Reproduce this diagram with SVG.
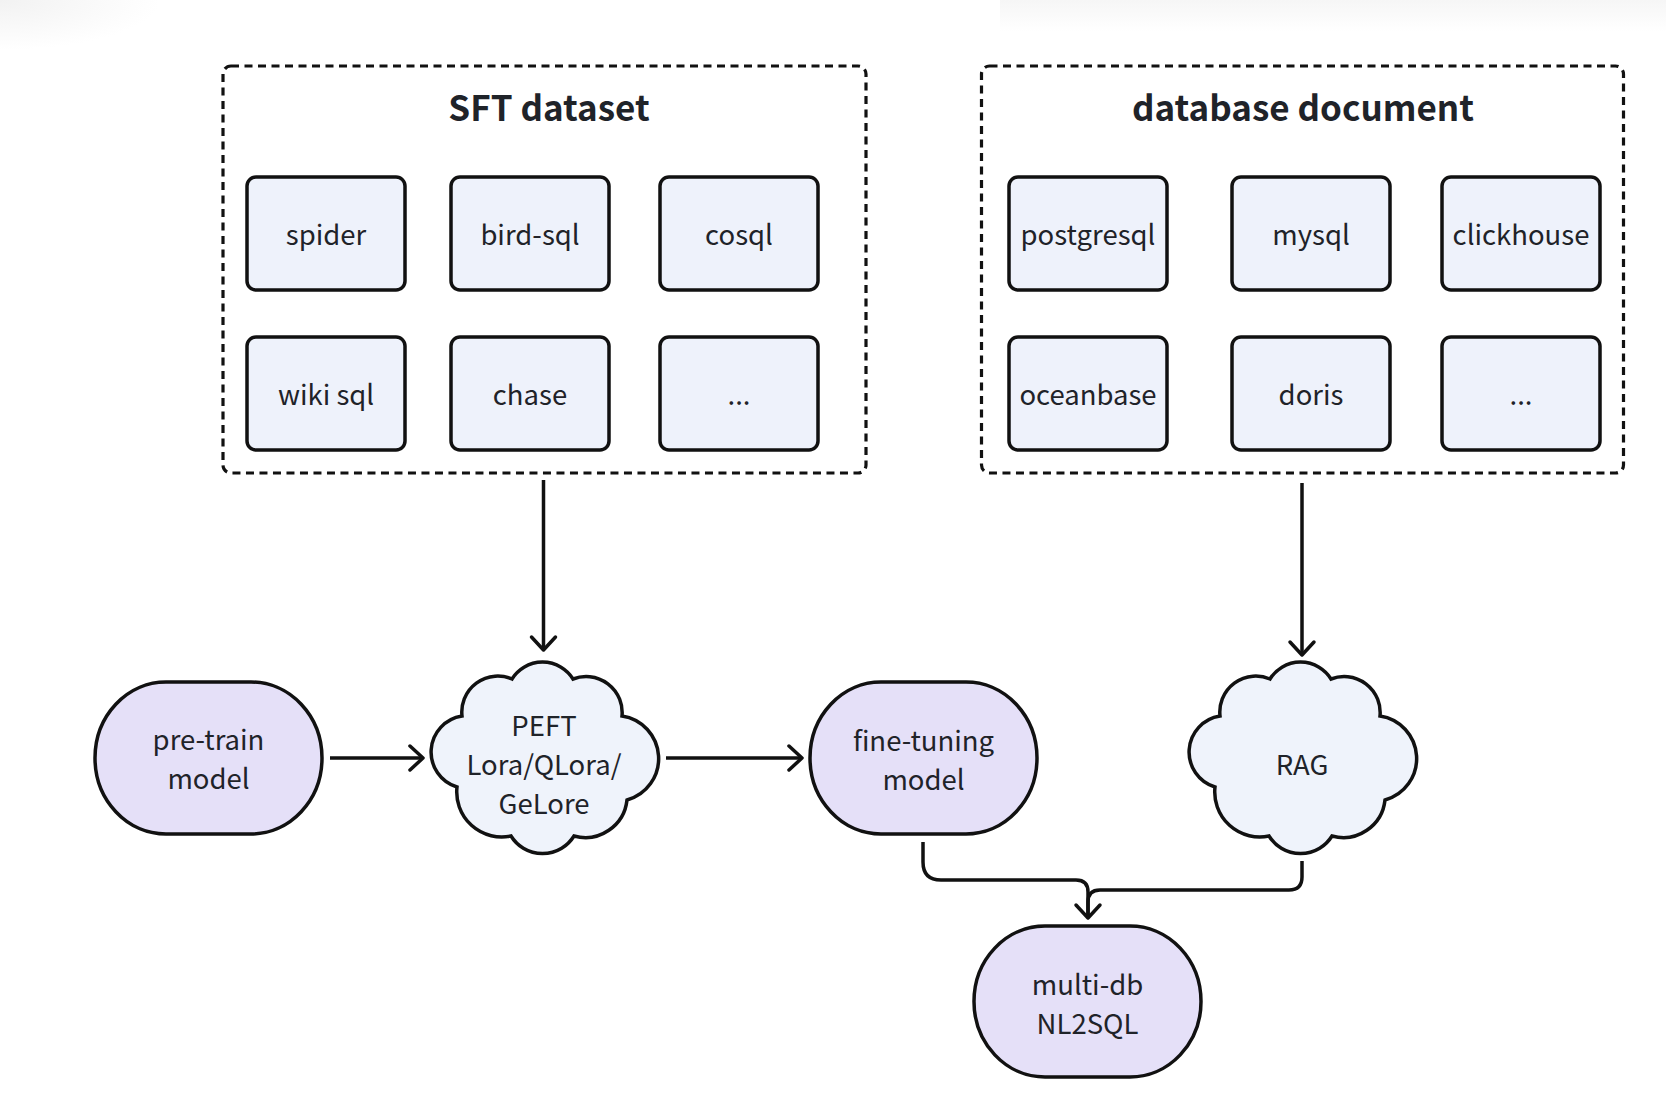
<svg xmlns="http://www.w3.org/2000/svg" width="1666" height="1094" viewBox="0 0 1666 1094">
<style>
.grp{fill:none;stroke:#111;stroke-width:3.2;stroke-dasharray:8 5.5}
.box{fill:#EEF2FB;stroke:#111;stroke-width:3.5}
.term{fill:#E5E0F8;stroke:#111;stroke-width:3.5}
.cloud{fill:#EFF3FB;stroke:#111;stroke-width:3.5;stroke-linejoin:miter}
.t{font-family:"Noto Sans CJK SC","Noto Sans",sans-serif;font-size:27.5px;fill:#1F2329;text-anchor:middle}
.title{font-family:"Noto Sans CJK SC","Noto Sans",sans-serif;font-size:35px;font-weight:700;fill:#1F2329;text-anchor:middle}
.conn{fill:none;stroke:#111;stroke-width:3.5}
</style>
<defs>
<radialGradient id="bgL" cx="0" cy="0" r="1" gradientUnits="objectBoundingBox">
<stop offset="0" stop-color="#f2f2f2"/><stop offset="1" stop-color="#ffffff"/>
</radialGradient>
<linearGradient id="bgR" x1="0" y1="0" x2="0" y2="1">
<stop offset="0" stop-color="#f6f6f6"/><stop offset="1" stop-color="#ffffff"/>
</linearGradient>
<marker id="arr" viewBox="0 0 30 30" markerWidth="30" markerHeight="30" refX="16" refY="15" orient="auto" markerUnits="userSpaceOnUse">
<path d="M3,3 L16,15 L3,27" fill="none" stroke="#111" stroke-width="3.5" stroke-linecap="round" stroke-linejoin="round"/>
</marker>
<path id="cloudShape" d="M-32,-79 A36,36 0 0 1 29,-79 A36,36 0 0 1 78,-42 A43,43 0 0 1 83,42 A42,42 0 0 1 30,78 A37,37 0 0 1 -33,78 A45,45 0 0 1 -87,29 A36.5,36.5 0 0 1 -82,-42 A36,36 0 0 1 -32,-79 Z"/>
</defs>
<rect width="1666" height="1094" fill="#ffffff"/>
<rect x="0" y="0" width="160" height="50" fill="url(#bgL)"/>
<rect x="1000" y="0" width="666" height="32" fill="url(#bgR)"/>

<g id="sft-dataset">
<rect class="grp" x="223" y="66" width="643" height="407" rx="8"/>
<text class="title" x="549" y="121">SFT dataset</text>
</g>
<g id="spider"><rect class="box" x="247" y="177" width="158" height="113" rx="9"/><text class="t" x="326" y="245">spider</text></g>
<g id="bird-sql"><rect class="box" x="451" y="177" width="158" height="113" rx="9"/><text class="t" x="530" y="245">bird-sql</text></g>
<g id="cosql"><rect class="box" x="660" y="177" width="158" height="113" rx="9"/><text class="t" x="739" y="245">cosql</text></g>
<g id="wiki-sql"><rect class="box" x="247" y="337" width="158" height="113" rx="9"/><text class="t" x="326" y="405">wiki sql</text></g>
<g id="chase"><rect class="box" x="451" y="337" width="158" height="113" rx="9"/><text class="t" x="530" y="405">chase</text></g>
<g id="sft-more"><rect class="box" x="660" y="337" width="158" height="113" rx="9"/><text class="t" x="739" y="405">...</text></g>

<g id="database-document">
<rect class="grp" x="981.5" y="66" width="642" height="407" rx="8"/>
<text class="title" x="1303" y="121">database document</text>
</g>
<g id="postgresql"><rect class="box" x="1009" y="177" width="158" height="113" rx="9"/><text class="t" x="1088" y="245">postgresql</text></g>
<g id="mysql"><rect class="box" x="1232" y="177" width="158" height="113" rx="9"/><text class="t" x="1311" y="245">mysql</text></g>
<g id="clickhouse"><rect class="box" x="1442" y="177" width="158" height="113" rx="9"/><text class="t" x="1521" y="245">clickhouse</text></g>
<g id="oceanbase"><rect class="box" x="1009" y="337" width="158" height="113" rx="9"/><text class="t" x="1088" y="405">oceanbase</text></g>
<g id="doris"><rect class="box" x="1232" y="337" width="158" height="113" rx="9"/><text class="t" x="1311" y="405">doris</text></g>
<g id="db-more"><rect class="box" x="1442" y="337" width="158" height="113" rx="9"/><text class="t" x="1521" y="405">...</text></g>

<g id="pre-train-model">
<rect class="term" x="95" y="682" width="227" height="152" rx="71" ry="76"/>
<text class="t" x="208.5" y="750">pre-train</text>
<text class="t" x="208.5" y="789">model</text>
</g>
<g id="peft">
<use href="#cloudShape" class="cloud" transform="translate(544,758)"/>
<text class="t" x="544" y="736">PEFT</text>
<text class="t" x="544" y="775">Lora/QLora/</text>
<text class="t" x="544" y="814">GeLore</text>
</g>
<g id="fine-tuning-model">
<rect class="term" x="810" y="682" width="227" height="152" rx="71" ry="76"/>
<text class="t" x="923.5" y="751">fine-tuning</text>
<text class="t" x="923.5" y="790">model</text>
</g>
<g id="rag">
<use href="#cloudShape" class="cloud" transform="translate(1302,758)"/>
<text class="t" x="1302" y="775">RAG</text>
</g>
<g id="multi-db-nl2sql">
<rect class="term" x="974" y="926" width="227" height="151" rx="71" ry="75.5"/>
<text class="t" x="1087.5" y="995">multi-db</text>
<text class="t" x="1087.5" y="1034">NL2SQL</text>
</g>

<g id="connectors">
<path class="conn" d="M543.5,480 L543.5,650" marker-end="url(#arr)"/>
<path class="conn" d="M1302,483 L1302,655" marker-end="url(#arr)"/>
<path class="conn" d="M330,758 L423,758" marker-end="url(#arr)"/>
<path class="conn" d="M666,758 L802,758" marker-end="url(#arr)"/>
<path class="conn" d="M923,842 L923,862 Q923,880 941,880 L1076,880 Q1088,880 1088,892 L1088,918" marker-end="url(#arr)"/>
<path class="conn" d="M1302,861 L1302,877 Q1302,890 1289,890 L1100,890 Q1088,890 1088,902 L1088,918"/>
</g>
</svg>
